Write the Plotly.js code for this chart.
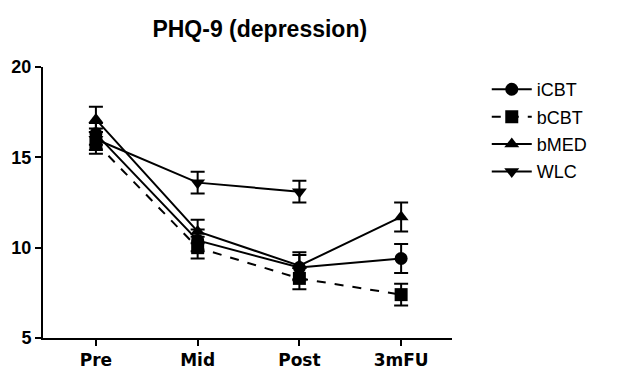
<!DOCTYPE html>
<html>
<head>
<meta charset="utf-8">
<script src="https://cdn.plot.ly/plotly-3.0.1.min.js"></script>
<style>html,body{margin:0;padding:0;background:#fff;}#chart{width:620px;height:369px;}</style>
</head>
<body>
<div id="chart"></div>
<script>
const timepoints = ["Pre", "Mid", "Post", "3mFU"];
const seriesNames = ["iCBT", "bCBT", "bMED", "WLC"];
const iCBT = [16.3, 10.4, 8.9, 9.4];
const iCBTErr = [0.6, 0.6, 0.7, 0.8];
const bCBT = [15.8, 10.0, 8.3, 7.4];
const bCBTErr = [0.6, 0.6, 0.6, 0.6];
const bMED = [17.1, 10.9, 9.0, 11.7];
const bMEDErr = [0.7, 0.65, 0.75, 0.8];
const WLC = [16.0, 13.6, 13.1, null];
const WLCErr = [0.6, 0.6, 0.6, null];
const yTicks = [5, 10, 15, 20];

const values = [iCBT, bCBT, bMED, WLC];
const errors = [iCBTErr, bCBTErr, bMEDErr, WLCErr];
const symbols = ["circle", "square", "triangle-up", "triangle-down"];
const dashes = ["solid", "dash", "solid", "solid"];

const traces = seriesNames.map((name, i) => ({
  x: timepoints,
  y: values[i],
  name: name,
  type: "scatter",
  mode: "lines+markers",
  legendgroup: name,
  line: {color: "#000", width: 2, dash: dashes[i]},
  marker: {symbol: symbols[i], size: 13, color: "#000"},
  error_y: {type: "data", array: errors[i], visible: true, color: "#000", thickness: 2, width: 7}
}));

const layout = {
  width: 620, height: 369,
  margin: {l: 43, r: 168, t: 67, b: 31},
  paper_bgcolor: "#fff", plot_bgcolor: "#fff",
  font: {family: "Liberation Sans, Arial, sans-serif", color: "#000"},
  title: {text: "<b>PHQ-9 (depression)</b>", font: {size: 23, color: "#000"}, x: 0.419, xanchor: "center", y: 0.922, yanchor: "middle"},
  xaxis: {
    type: "category", range: [-0.52, 3.5], showline: true, linecolor: "#000", linewidth: 2,
    ticks: "outside", ticklen: 6, tickwidth: 2, tickcolor: "#000", showgrid: false, zeroline: false,
    tickfont: {size: 17, color: "#000", family: "DejaVu Sans", weight: "bold"}
  },
  yaxis: {
    range: [5, 20], tickvals: yTicks, showline: true, linecolor: "#000", linewidth: 2,
    ticks: "outside", ticklen: 6, tickwidth: 2, tickcolor: "#000", showgrid: false, zeroline: false,
    tickfont: {size: 18, color: "#000", family: "Liberation Sans, Arial, sans-serif", weight: "bold"}
  },
  showlegend: true,
  legend: {x: 1.085, y: 0.985, xanchor: "left", yanchor: "top", font: {size: 18, color: "#000"},
    itemwidth: 40, traceorder: "grouped", tracegroupgap: 1, bgcolor: "rgba(0,0,0,0)"}
};

Plotly.newPlot("chart", traces, layout, {staticPlot: true, displayModeBar: false});
</script>
</body>
</html>
